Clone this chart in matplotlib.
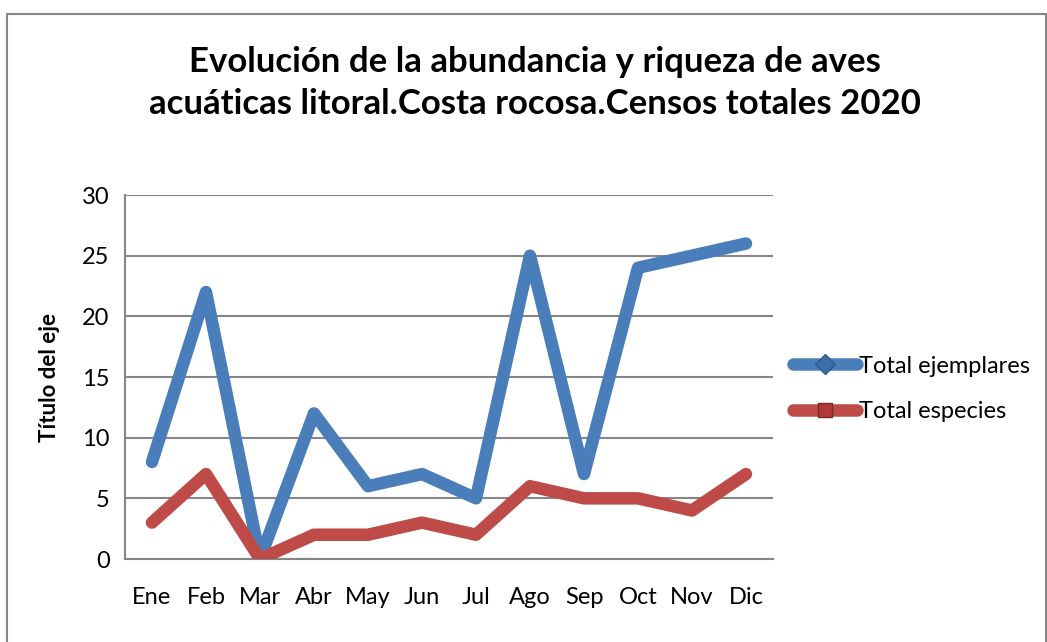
import numpy as np
import matplotlib.pyplot as plt
from matplotlib.lines import Line2D
from matplotlib.patches import Rectangle

plt.rcParams['font.family'] = ['Lato', 'DejaVu Sans']

### data
meses = ['Ene', 'Feb', 'Mar', 'Abr', 'May', 'Jun', 'Jul', 'Ago', 'Sep', 'Oct', 'Nov', 'Dic']
ejemplares = [8, 22, 0, 12, 6, 7, 5, 25, 7, 24, 25, 26]
especies = [3, 7, 0, 2, 2, 3, 2, 6, 5, 5, 4, 7]

azul = '#4A7EBB'
rojo = '#BE4B48'
gris = '#868686'

fig = plt.figure(figsize=(10.47, 6.42), dpi=100)
W, H = 1047, 642
# axes box in pixels: left 125, right 773, top 195, bottom 559
ax = fig.add_axes([125/W, 1-559/H, (773-125)/W, (559-195)/H])

x = np.arange(len(meses))
ax.plot(x, ejemplares, color=azul, lw=9, solid_capstyle='round', solid_joinstyle='round', zorder=3)
ax.plot(x, especies, color=rojo, lw=9, solid_capstyle='round', solid_joinstyle='round', zorder=3)

ax.set_xlim(-0.5, len(meses)-0.5)
ax.set_ylim(0, 30)
ax.set_yticks(range(0, 31, 5))
ax.set_xticks(x)
ax.set_xticklabels(meses)
ax.tick_params(axis='both', length=0, labelsize=17)
ax.tick_params(axis='y', pad=11)
ax.tick_params(axis='x', pad=20)
ax.yaxis.grid(True, color=gris, lw=1.5)
ax.set_axisbelow(True)
for s in ['top', 'right']:
    ax.spines[s].set_visible(False)
for s in ['left', 'bottom']:
    ax.spines[s].set_color(gris)
    ax.spines[s].set_linewidth(1.5)

ax.set_ylabel('Título del eje', fontsize=16, fontweight='bold', labelpad=16)

fig.suptitle('Evolución de la abundancia y riqueza de aves\nacuáticas litoral.Costa rocosa.Censos totales 2020',
             x=535/W, y=1-46/H, fontsize=25, fontweight='bold', linespacing=1.4)

### legend with markers
handles = [
    Line2D([], [], color=azul, lw=9, solid_capstyle='round', marker='D', markersize=10,
           markerfacecolor='#3C6EA8', markeredgecolor='#2E5A8E'),
    Line2D([], [], color=rojo, lw=9, solid_capstyle='round', marker='s', markersize=10,
           markerfacecolor='#B03A37', markeredgecolor='#7F2624'),
]
fig.legend(handles, ['Total ejemplares', 'Total especies'], loc='center left',
           bbox_to_anchor=(772/W, 1-389/H), frameon=False, fontsize=17,
           handlelength=2.7, handletextpad=0.1, labelspacing=1.05)

### outer border
fig.patches.append(Rectangle((7/W, -0.1), (W-8)/W, 1.1-14/H, transform=fig.transFigure,
                             fill=False, edgecolor=gris, lw=1.5))

fig.savefig('out.png', dpi=100)
